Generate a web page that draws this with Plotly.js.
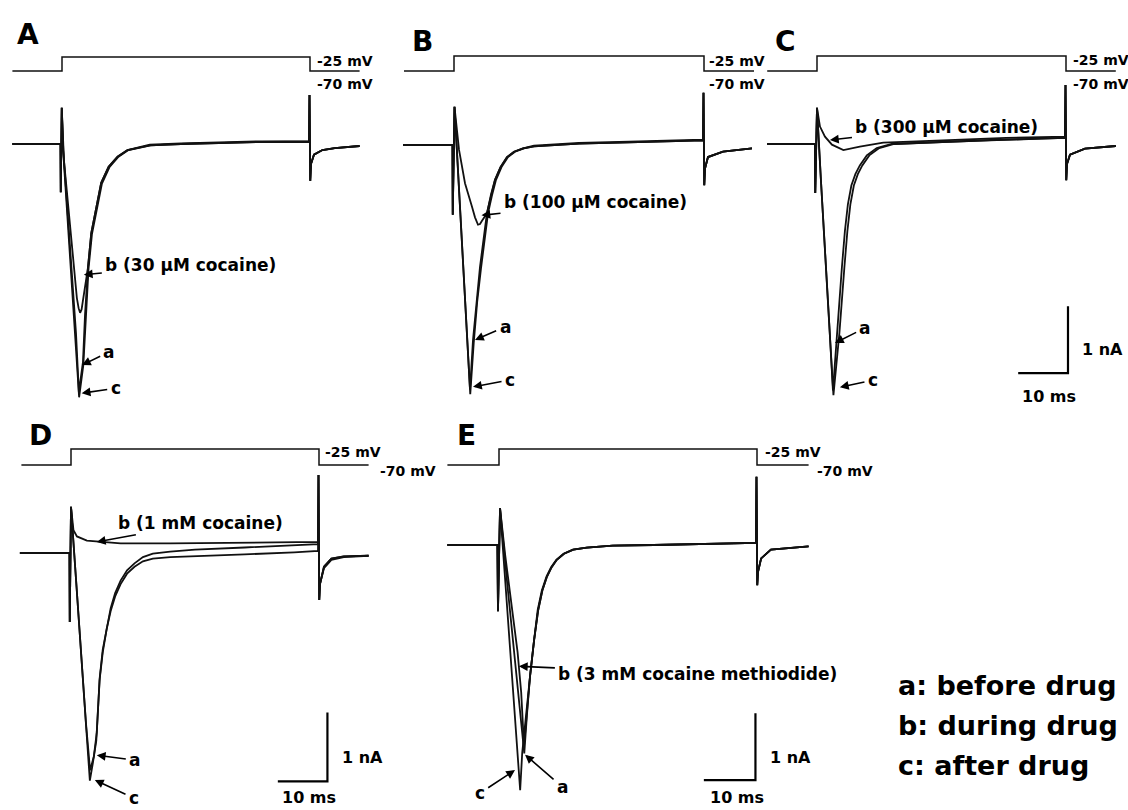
<!DOCTYPE html>
<html><head><meta charset="utf-8">
<script src="https://cdn.plot.ly/plotly-3.0.1.min.js"></script>
<style>html,body{margin:0;padding:0;background:#fff}#plot{width:1128px;height:810px}</style>
</head><body><div id="plot"></div>
<script>
// ---------------- DATA (time in ms, current in nA, voltage in mV) ----------------
const panelNames = ['A','B','C','D','E'];
const stepT  = [-10, 0, 0, 50, 50, 60];
const stepMV = [-70, -70, -25, -25, -70, -70];
const holdLabel = '-70 mV', testLabel = '-25 mV';
const scaleMs = 10, scaleNa = 1;
const legendLines = ['a: before drug','b: during drug','c: after drug'];
const drugLabels = ['b (30 µM cocaine)','b (100 µM cocaine)','b (300 µM cocaine)','b (1 mM cocaine)','b (3 mM cocaine methiodide)'];

// Panel A
const A_a_t = [-10,-0.3,-0.25,-0.05,0.26,0.95,1.81,2.82,3.4,4.23,4.64,5.24,5.9,7.2,7.9,9.4,11.2,13.2,17.7,24,32,40,49.8,49.9,50.05,50.2,50.8,52.5,55,60];
const A_a_i = [0,0,-0.72,0.54,-0.09,-0.84,-1.84,-2.82,-3.7,-3.25,-2.55,-1.84,-1.33,-0.84,-0.58,-0.34,-0.19,-0.09,-0.02,0,0.02,0.03,0.03,0.73,-0.55,-0.3,-0.16,-0.09,-0.06,-0.03];
const A_b_t = [-10,-0.3,-0.25,-0.05,0.4,1.3,2.3,3.0,3.35,3.65,3.95,4.2,4.7,5.24,5.9,7.2,7.9,9.4,11.2,13.2,17.7,24,32,40,49.8,49.9,50.05,50.2,50.8,52.5,55,60];
const A_b_i = [0,0,-0.72,0.54,-0.25,-1.0,-1.84,-2.3,-2.45,-2.52,-2.47,-2.35,-2.08,-1.84,-1.33,-0.84,-0.58,-0.34,-0.19,-0.09,-0.01,0.01,0.03,0.04,0.04,0.73,-0.55,-0.3,-0.16,-0.09,-0.06,-0.03];
const A_c_t = [-10,-0.3,-0.25,-0.05,0.22,0.9,1.75,2.8,3.45,4.3,4.75,5.35,6.05,7.35,8.05,9.6,11.4,13.4,17.9,24,32,40,49.8,49.9,50.05,50.2,50.8,52.5,55,60];
const A_c_i = [0,0,-0.72,0.54,-0.09,-0.86,-1.88,-2.9,-3.78,-3.3,-2.6,-1.86,-1.34,-0.85,-0.59,-0.34,-0.19,-0.09,-0.02,0,0.02,0.03,0.04,0.73,-0.55,-0.3,-0.16,-0.09,-0.06,-0.03];

// Panel B
const B_a_t = [-10.2,-0.3,-0.25,0.1,1.0,1.9,2.6,3.2,3.8,4.5,5.2,6.6,7.4,8.2,9.3,10.6,12,13.8,16,20,25,35,45,49.8,49.9,50.05,50.2,50.8,53.8,59.6];
const B_a_i = [0,0,-1.04,0.57,-0.65,-1.85,-2.8,-3.65,-2.91,-2.3,-1.82,-1.01,-0.74,-0.52,-0.33,-0.18,-0.1,-0.05,-0.02,0,0.02,0.04,0.06,0.07,0.78,-0.6,-0.35,-0.18,-0.1,-0.05];
const B_b_t = [-10.2,-0.3,-0.25,0.1,1.0,2.2,3.6,4.2,4.8,5.2,5.6,6.6,7.4,8.2,9.3,10.6,12,13.8,16,20,25,35,45,49.8,49.9,50.05,50.2,50.8,53.8,59.6];
const B_b_i = [0,0,-1.04,0.57,-0.07,-0.57,-0.92,-1.08,-1.19,-1.18,-1.13,-1.02,-0.74,-0.52,-0.33,-0.18,-0.1,-0.05,-0.01,0.01,0.03,0.05,0.07,0.08,0.78,-0.6,-0.35,-0.18,-0.1,-0.05];
const B_c_t = [-10.2,-0.3,-0.25,0.1,1.0,1.9,2.6,3.25,3.95,4.65,5.4,6.8,7.6,8.4,9.5,10.8,12.2,14,16,20,25,35,45,49.8,49.9,50.05,50.2,50.8,53.8,59.6];
const B_c_i = [0,0,-1.04,0.57,-0.66,-1.86,-2.82,-3.72,-2.95,-2.33,-1.84,-1.02,-0.75,-0.52,-0.33,-0.18,-0.1,-0.05,-0.02,0,0.02,0.04,0.06,0.07,0.78,-0.6,-0.35,-0.18,-0.1,-0.05];

// Panel C
const C_a_t = [-10,-0.4,-0.35,0.0,0.8,1.6,2.4,3.2,4.0,5.0,5.6,6.2,6.9,7.7,8.6,10,12,15,25,35,45,49.8,49.9,50.05,50.2,50.8,53.8,60];
const C_a_i = [0,0,-0.73,0.54,-0.55,-1.5,-2.6,-3.68,-2.82,-1.84,-1.3,-0.9,-0.62,-0.45,-0.32,-0.17,-0.06,0,0.03,0.06,0.08,0.09,0.88,-0.54,-0.3,-0.16,-0.07,-0.03];
const C_b_t = [-10,-0.4,-0.35,0.0,0.6,1.6,3.0,5.3,8.6,13.3,20,26.7,38,49.8,49.9,50.05,50.2,50.8,53.8,60];
const C_b_i = [0,0,-0.73,0.54,0.26,0.11,-0.01,-0.09,-0.04,0.02,0.04,0.06,0.09,0.11,0.88,-0.54,-0.3,-0.16,-0.07,-0.03];
const C_c_t = [-10,-0.4,-0.35,0.0,0.8,1.6,2.4,3.3,4.5,5.5,6.1,6.7,7.4,8.2,9.1,10.5,12.5,15.5,25,35,45,49.8,49.9,50.05,50.2,50.8,53.8,60];
const C_c_i = [0,0,-0.73,0.54,-0.56,-1.52,-2.62,-3.75,-2.82,-1.84,-1.3,-0.9,-0.62,-0.45,-0.32,-0.17,-0.06,0,0.03,0.06,0.08,0.09,0.88,-0.54,-0.3,-0.16,-0.07,-0.03];

// Panel D
const D_a_t = [-10.3,-0.3,-0.25,0.0,1.0,2.0,3.0,3.85,4.6,5.2,5.8,6.4,7.2,8.0,8.9,10,11.3,12.8,14.5,16.5,20,25,35,45,49.8,49.9,50.05,50.2,51,52.5,55,60];
const D_a_i = [0,0,-1.0,0.67,-0.37,-1.41,-2.45,-3.15,-2.95,-2.6,-1.8,-1.4,-1.07,-0.8,-0.58,-0.4,-0.25,-0.15,-0.06,-0.01,0.02,0.05,0.08,0.11,0.13,1.13,-0.68,-0.45,-0.2,-0.08,-0.05,-0.04];
const D_b_t = [-10.3,-0.3,-0.25,0.0,0.5,1.2,3.2,5.9,10,20,30,40,49.8,49.9,50.05,50.2,51,52.5,55,60];
const D_b_i = [0,0,-1.0,0.67,0.33,0.24,0.18,0.16,0.14,0.14,0.15,0.15,0.16,1.13,-0.68,-0.45,-0.2,-0.08,-0.05,-0.04];
const D_c_t = [-10.3,-0.3,-0.25,0.0,1.0,2.0,3.0,3.8,4.4,5.1,5.75,6.4,7.2,8.0,8.9,10,11.3,12.8,14.5,16.5,20,25,35,45,49.8,49.9,50.05,50.2,51,52.5,55,60];
const D_c_i = [0,0,-1.0,0.67,-0.37,-1.42,-2.47,-3.3,-3.05,-2.72,-1.85,-1.44,-1.1,-0.84,-0.63,-0.45,-0.3,-0.2,-0.12,-0.08,-0.06,-0.05,-0.02,0.01,0.03,1.13,-0.68,-0.45,-0.22,-0.1,-0.06,-0.04];

// Panel E
const E_a_t = [-10,-0.3,-0.2,0.2,1.5,2.8,4.0,4.9,5.4,6.0,6.8,7.6,8.4,9.3,10.2,11.2,12.6,14.4,17,22,30,40,49.8,49.9,50.05,50.2,50.8,52.7,60];
const E_a_i = [0,0,-0.99,0.55,-0.5,-1.47,-2.4,-3.11,-2.55,-1.97,-1.42,-0.97,-0.68,-0.47,-0.33,-0.22,-0.13,-0.07,-0.04,-0.01,0,0.02,0.03,1.02,-0.6,-0.4,-0.2,-0.07,-0.02];
const E_b_t = [-10,-0.3,-0.2,0.2,1.2,2.4,3.6,4.3,4.85,5.3,6.0,6.8,7.6,8.4,9.3,10.2,11.2,12.6,14.4,17,22,30,40,49.8,49.9,50.05,50.2,50.8,52.7,60];
const E_b_i = [0,0,-0.99,0.55,-0.15,-0.85,-1.6,-2.2,-3.0,-2.6,-1.97,-1.42,-0.97,-0.68,-0.47,-0.33,-0.22,-0.13,-0.07,-0.04,-0.01,0,0.02,0.03,1.02,-0.6,-0.4,-0.2,-0.07,-0.02];
const E_c_t = [-10,-0.3,-0.2,0.2,1.1,2.0,3.0,3.6,4.1,4.5,5.2,6.0,6.8,7.5,8.3,9.2,10.1,11.1,12.5,14.3,17,22,30,40,49.8,49.9,50.05,50.2,50.8,52.7,60];
const E_c_i = [0,0,-0.99,0.55,-0.42,-1.39,-2.47,-3.12,-3.66,-3.1,-2.55,-1.97,-1.42,-0.97,-0.68,-0.47,-0.33,-0.22,-0.13,-0.07,-0.04,-0.01,0,0.02,0.03,1.02,-0.6,-0.4,-0.2,-0.07,-0.02];

const currents = {
  A:{a:[A_a_t,A_a_i], b:[A_b_t,A_b_i], c:[A_c_t,A_c_i]},
  B:{a:[B_a_t,B_a_i], b:[B_b_t,B_b_i], c:[B_c_t,B_c_i]},
  C:{a:[C_a_t,C_a_i], b:[C_b_t,C_b_i], c:[C_c_t,C_c_i]},
  D:{a:[D_a_t,D_a_i], b:[D_b_t,D_b_i], c:[D_c_t,D_c_i]},
  E:{a:[E_a_t,E_a_i], b:[E_b_t,E_b_i], c:[E_c_t,E_c_i]}
};

// ---------------- LAYOUT (pixel geometry of each panel) ----------------
const W = 1128, H = 810;
const XR = [-12, 62], IHI = 1.3, VR = [-85, -10];
const FONT = 'DejaVu Sans, Liberation Sans, Arial, sans-serif';
const geom = {
  A:{s:62,  e:310, base:144, npx:67, vlo:71,  vhi:57,  letter:[15,35],  mv25:[315,61],  mv70:[315,84]},
  B:{s:454, e:704, base:145, npx:67, vlo:71,  vhi:56,  letter:[410,42], mv25:[707,61],  mv70:[707,84]},
  C:{s:817, e:1066,base:144, npx:67, vlo:71,  vhi:56,  letter:[773,42], mv25:[1071,60], mv70:[1071,84]},
  D:{s:71,  e:319, base:553, npx:69, vlo:465, vhi:449, letter:[27,435], mv25:[323,452], mv70:[378,471]},
  E:{s:499, e:757, base:545, npx:67, vlo:465, vhi:449, letter:[455,435],mv25:[763,452], mv70:[815,471]}
};
// arrow labels: head point in data units, text offset in px
const arrows = {
  A:[{k:'b',t:4.4,i:-1.95,ax:107,ay:-10},{k:'a',t:4.03,i:-3.3,ax:27,ay:-13},{k:'c',t:3.97,i:-3.72,ax:34,ay:-5}],
  B:[{k:'b',t:5.5,i:-1.05,ax:114,ay:-13},{k:'a',t:4.2,i:-2.91,ax:30,ay:-13},{k:'c',t:3.8,i:-3.61,ax:37,ay:-7}],
  C:[{k:'b',t:2.6,i:0.06,ax:117,ay:-13},{k:'a',t:3.6,i:-2.97,ax:30,ay:-15},{k:'c',t:4.6,i:-3.63,ax:33,ay:-7}],
  D:[{k:'b',t:5.2,i:0.16,ax:104,ay:-19},{k:'a',t:5.2,i:-2.93,ax:38,ay:5},{k:'c',t:4.8,i:-3.29,ax:39,ay:18}],
  E:[{k:'b',t:3.85,i:-1.81,ax:179,ay:8},{k:'c',t:3.1,i:-3.36,ax:-35,ay:23},{k:'a',t:5.05,i:-3.13,ax:37,ay:32}]
};
const scaleCorner = {C:[50.4,-3.42,[1080,350],[1020,396]], D:[51.7,-3.31,[340,757],[280,797]], E:[49.7,-3.51,[768,757],[708,797]]};

const traces = [];
const layout = {width:W,height:H,margin:{l:0,r:0,t:0,b:0},paper_bgcolor:'#fff',plot_bgcolor:'rgba(0,0,0,0)',
  showlegend:false, annotations:[], font:{family:FONT,color:'#000'}};
const px = x => x / W, py = y => 1 - y / H;
const bold = (size) => ({family:FONT,size:size,color:'#000',weight:'bold'});
function txt(text, x, y, size){
  layout.annotations.push({text:text, xref:'paper', yref:'paper', x:px(x), y:py(y), xanchor:'left', yanchor:'middle', showarrow:false, font:bold(size)});
}

panelNames.forEach((name, i) => {
  const g = geom[name];
  const k = (g.e - g.s) / 50;
  const n = i + 1, nv = i + 6;
  const xk = 'xaxis' + (n === 1 ? '' : n), xr = 'x' + (n === 1 ? '' : n);
  const yk = 'yaxis' + (n === 1 ? '' : n), yr = 'y' + (n === 1 ? '' : n);
  const ilo = -Math.min(4, (H - 2 - g.base) / g.npx);
  layout[xk] = {domain:[px(g.s + XR[0]*k), px(g.s + XR[1]*k)], range:XR, visible:false, fixedrange:true};
  layout[yk] = {domain:[py(g.base - ilo*g.npx), py(g.base - IHI*g.npx)], range:[ilo, IHI], visible:false, fixedrange:true, anchor:xr};
  const m = (g.vlo - g.vhi) / 45;
  layout['yaxis'+nv] = {domain:[py(g.vlo + 15*m), py(g.vhi - 15*m)], range:VR, visible:false, fixedrange:true, anchor:xr};
  // voltage step
  traces.push({x:stepT, y:stepMV, xaxis:xr, yaxis:'y'+nv, mode:'lines', line:{color:'#111', width:1.5}, hoverinfo:'skip'});
  // current traces
  ['c','b','a'].forEach(key => {
    const d = currents[name][key];
    traces.push({x:d[0], y:d[1], xaxis:xr, yaxis:yr, mode:'lines', line:{color:'#111', width:1.8}, hoverinfo:'skip'});
  });
  // labels
  txt(name, g.letter[0], g.letter[1], 28);
  txt(testLabel, g.mv25[0], g.mv25[1], 14);
  txt(holdLabel, g.mv70[0], g.mv70[1], 14);
  arrows[name].forEach(a => {
    layout.annotations.push({text: a.k === 'b' ? drugLabels[i] : a.k, xref:xr, yref:yr, x:a.t, y:a.i,
      ax:a.ax, ay:a.ay, showarrow:true, arrowhead:2, arrowsize:1.1, arrowwidth:1.6, arrowcolor:'#000', standoff:0, startstandoff:2,
      font:bold(17)});
  });
  if (scaleCorner[name]) {
    const sc = scaleCorner[name];
    traces.push({x:[sc[0]-scaleMs, sc[0], sc[0]], y:[sc[1], sc[1], sc[1]+scaleNa], xaxis:xr, yaxis:yr, mode:'lines',
      line:{color:'#000', width:2.2}, hoverinfo:'skip'});
    txt(scaleNa + ' nA', sc[2][0], sc[2][1], 16);
    txt(scaleMs + ' ms', sc[3][0], sc[3][1], 16);
  }
});
legendLines.forEach((s, j) => txt(s, 896, 685 + 40*j, 27));

Plotly.newPlot('plot', traces, layout, {staticPlot:true, displayModeBar:false});
</script></body></html>
